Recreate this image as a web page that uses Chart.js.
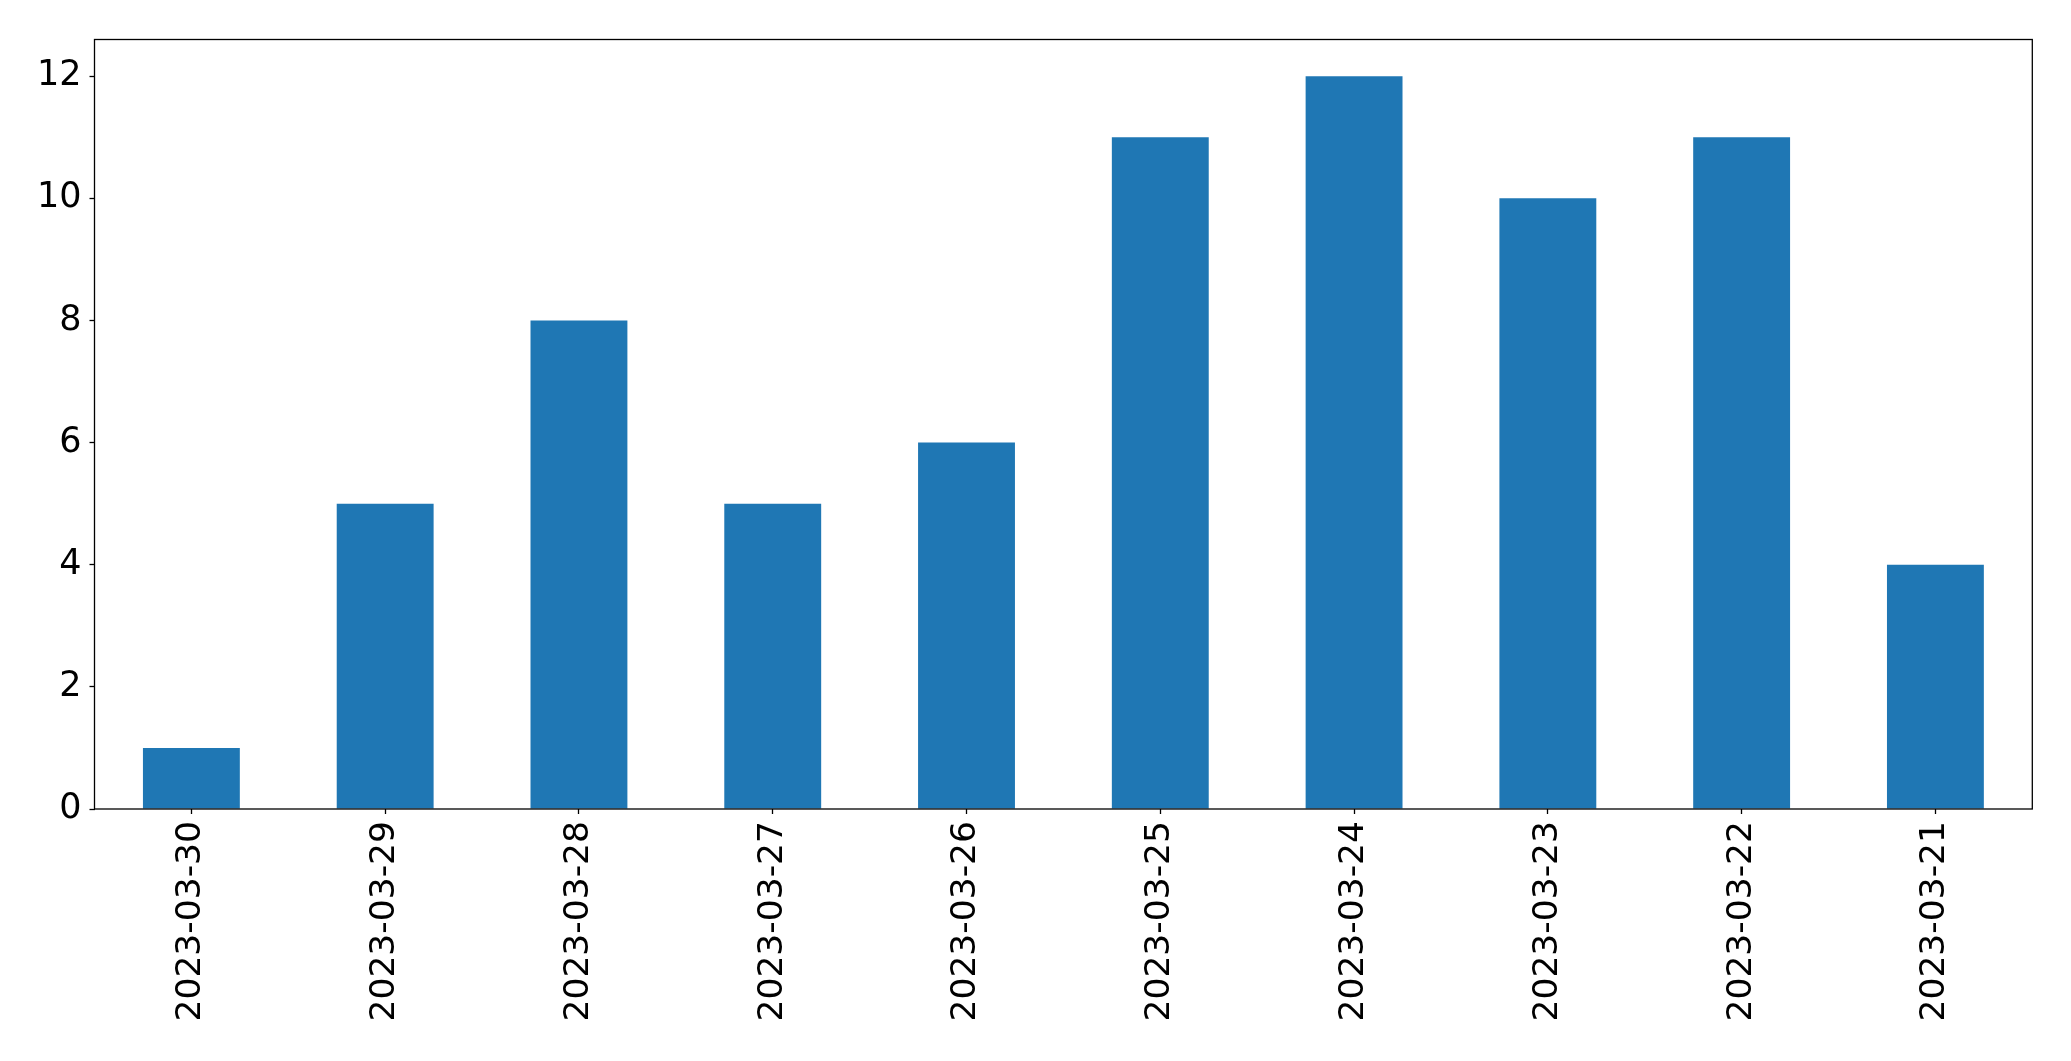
<!DOCTYPE html>
<html>
<head>
<meta charset="utf-8">
<script src="https://cdn.jsdelivr.net/npm/chart.js@4/dist/chart.umd.min.js"></script>
<style>
html,body{margin:0;padding:0;background:#fff;}
#wrap{width:2071px;height:1061px;position:relative;}
</style>
</head>
<body>
<div id="wrap"><canvas id="c" width="2071" height="1061"></canvas></div>
<script>
const categories = ["2023-03-30","2023-03-29","2023-03-28","2023-03-27","2023-03-26","2023-03-25","2023-03-24","2023-03-23","2023-03-22","2023-03-21"];
const counts = [1,5,8,5,6,11,12,10,11,4];
const yTicks = [0,2,4,6,8,10,12];
const yMax = 12.6;

const frame = {
  id: 'frame',
  afterDraw(chart) {
    const a = chart.chartArea, ctx = chart.ctx;
    ctx.save();
    ctx.strokeStyle = '#000';
    ctx.lineWidth = 1.3;
    ctx.strokeRect(a.left, a.top, a.right - a.left, a.bottom - a.top);
    ctx.restore();
  }
};

new Chart(document.getElementById('c'), {
  type: 'bar',
  data: {
    labels: categories,
    datasets: [{ data: counts, backgroundColor: '#1f77b4', borderWidth: 0, categoryPercentage: 1.0, barPercentage: 0.5 }]
  },
  options: {
    responsive: false,
    animation: false,
    layout: { padding: { left: 0, top: 39.5, right: 38.7, bottom: 0 } },
    plugins: { legend: { display: false }, tooltip: { enabled: false } },
    scales: {
      x: {
        offset: true,
        grid: { display: true, drawOnChartArea: false, offset: false, tickLength: 5, tickColor: '#000', tickWidth: 1.3 },
        border: { display: false },
        ticks: { color: '#000', font: { family: 'DejaVu Sans', size: 34.5 }, minRotation: 90, maxRotation: 90, padding: 7, autoSkip: false },
        afterFit(s) { s.height = 1061 - 809; }
      },
      y: {
        min: 0, max: yMax,
        grid: { display: true, drawOnChartArea: false, tickLength: 5, tickColor: '#000', tickWidth: 1.3 },
        border: { display: false },
        ticks: { color: '#000', font: { family: 'DejaVu Sans', size: 35 }, stepSize: 2, includeBounds: false, padding: 8 },
        afterBuildTicks(s) { s.ticks = yTicks.map(v => ({ value: v })); },
        afterFit(s) { s.width = 94.5; }
      }
    }
  },
  plugins: [frame]
});
</script>
</body>
</html>
